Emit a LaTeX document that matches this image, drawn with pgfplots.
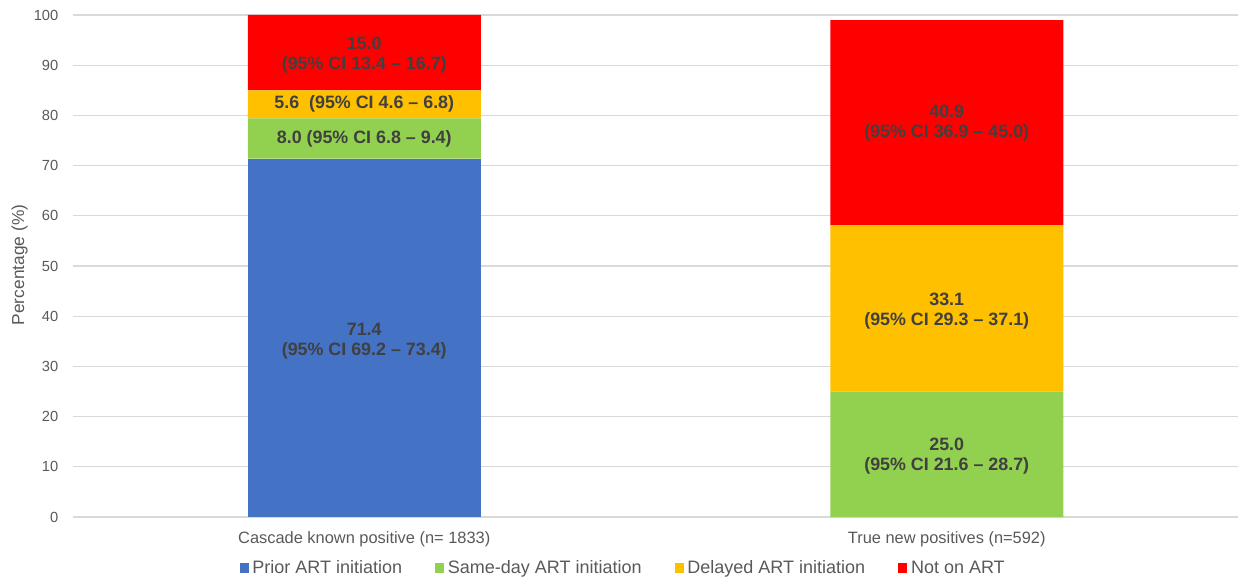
\documentclass[border=0pt]{standalone}
\usepackage{fontspec}
\setmainfont{Liberation Sans}
\usepackage{pgfplots}
\usepackage{pgfplotstable}
\pgfplotsset{compat=1.18}
\definecolor{cblue}{HTML}{4472C4}
\definecolor{cgreen}{HTML}{92D050}
\definecolor{corange}{HTML}{FFC000}
\definecolor{cred}{HTML}{FF0000}
\definecolor{gridc}{HTML}{D9D9D9}
\definecolor{tickc}{HTML}{595959}
\definecolor{labc}{HTML}{404040}

\tikzset{lab/.style={align=center, text=labc, font=\bfseries\fontsize{13.4}{15}\selectfont}}

\pgfplotstableread{
x prior same delayed noart
0 71.4 8.0 5.6 15.0
1 0 25.0 33.1 40.9
}\datatable

\begin{document}
\begin{tikzpicture}
\path[use as bounding box] (-54.75pt,-46.5pt) rectangle (873.75pt,387.75pt);
\begin{axis}[
  at={(0,0)}, anchor=south west,
  scale only axis, width=873.75pt, height=376.5pt,
  ybar stacked, bar width=0.4,
  xmin=-0.5, xmax=1.5, ymin=0, ymax=100,
  xtick={0,1},
  xticklabels={Cascade known positive (n= 1833), True new positives (n=592)},
  ytick={0,10,...,100},
  ymajorgrids, grid style={gridc, line width=0.9pt},
  axis line style={draw=none},
  major tick length=0pt,
  /pgf/number format/assume math mode=true,
  yticklabel style={font=\fontsize{11}{13}\selectfont, text=tickc, xshift=-7.5pt},
  xticklabel style={font=\fontsize{12.3}{14}\selectfont, text=tickc, yshift=-7.5pt},
  ylabel={Percentage (\%)},
  every axis y label/.style={at={(axis description cs:0,0.502)}, rotate=90, anchor=center, yshift=40pt, font=\fontsize{13}{15}\selectfont, text=tickc},
  legend style={at={(0.473,-0.1016)}, anchor=center, draw=none, fill=none,
    legend columns=4, font=\fontsize{13.5}{15}\selectfont, text=tickc,
    nodes={inner xsep=2.8pt},
    /tikz/every even column/.append style={column sep=22pt}},
  legend image code/.code={\path[#1, draw=none] (0pt,-3.4pt) rectangle (6.75pt,3.4pt);},
  clip=false,
]
\addplot[fill=cblue, draw=none] table[x=x, y=prior]{\datatable};
\addplot[fill=cgreen, draw=none] table[x=x, y=same]{\datatable};
\addplot[fill=corange, draw=none] table[x=x, y=delayed]{\datatable};
\addplot[fill=cred, draw=none] table[x=x, y=noart]{\datatable};
\legend{Prior ART initiation, Same-day ART initiation, Delayed ART initiation, Not on ART}
\coordinate (l1) at (axis cs:0,92.1);
\coordinate (l2) at (axis cs:0,82.2);
\coordinate (l3) at (axis cs:0,75.3);
\coordinate (l4) at (axis cs:0,35.0);
\coordinate (l5) at (axis cs:1,12.2);
\coordinate (l6) at (axis cs:1,41.0);
\coordinate (l7) at (axis cs:1,78.5);
\end{axis}
\node[lab] at (l1) {15.0\\(95\% CI 13.4 – 16.7)};
\node[lab] at (l2) {5.6\ \ (95\% CI 4.6 – 6.8)};
\node[lab] at (l3) {8.0 (95\% CI 6.8 – 9.4)};
\node[lab] at (l4) {71.4\\(95\% CI 69.2 – 73.4)};
\node[lab] at (l5) {25.0\\(95\% CI 21.6 – 28.7)};
\node[lab] at (l6) {33.1\\(95\% CI 29.3 – 37.1)};
\node[lab] at (l7) {40.9\\(95\% CI 36.9 – 45.0)};
\end{tikzpicture}
\end{document}
